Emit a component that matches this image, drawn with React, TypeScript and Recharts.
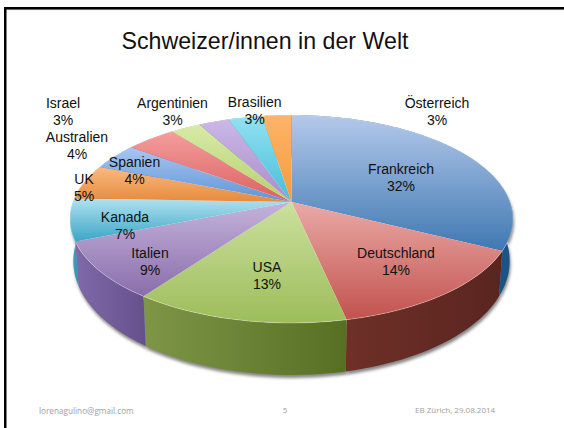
import React from 'react';
import { PieChart, Pie } from 'recharts';

const countries = ['Frankreich', 'Deutschland', 'USA', 'Italien', 'Kanada', 'UK', 'Spanien', 'Australien', 'Israel', 'Argentinien', 'Brasilien', 'Österreich'];
const shares = [32.4, 14.2, 13.4, 9, 6.6, 5.4, 4.1, 4.3, 2.6, 2.6, 2.9, 2.5];
const topLight = ['#b4c9ea', '#eaaaa7', '#cbe09d', '#c4b3db', '#b2e2f0', '#f9ba80', '#a8c6f2', '#f69d9d', '#d8eaa8', '#cbb8e7', '#92e2f2', '#fdb468'];
const topDark = ['#3f78b2', '#c2524e', '#9dbd5b', '#8a6dab', '#3aa6c6', '#e78a3c', '#5f94d6', '#d96262', '#b5d16a', '#a88cc9', '#46bdd8', '#f59b3e'];
const sideLeft = ['#1a4a78', '#6e3028', '#7f9648', '#8069a8', '#42a8c6', '#c9742e', '#4d7fb8', '#b04c4c', '#90a850', '#8870a8', '#38a0b8', '#d0802e'];
const sideRight = ['#1c5488', '#5a251f', '#566f22', '#66508c', '#2f93b0', '#c9742e', '#4d7fb8', '#b04c4c', '#90a850', '#8870a8', '#38a0b8', '#d0802e'];

// label centre and first baseline, in page pixels
const labelAnchors = [
  [401, 174], [396, 258], [267, 272], [150, 258], [125, 222], [84, 184],
  [134.5, 167], [77, 142], [63, 108], [172.5, 108], [254.7, 107], [437, 108],
];

const rows = countries.map((name, i) => ({ name, share: shares[i] }));

const CX = 291.5;
const CY = 202;
const R = 218.5;
const SQUASH = 0.463;
const PERSP = -0.1635;

const project = (cx: number, cy: number, r: number, deg: number) => {
  const t = ((90 - deg) * Math.PI) / 180;
  const u = Math.sin(t);
  const v = -Math.cos(t);
  const w = 1 + PERSP * v;
  return { x: cx + (r * u) / w, y: cy + (r * SQUASH * v) / w, v };
};

const rim = (p: any) => {
  const pts = [];
  const n = Math.max(4, Math.ceil(Math.abs(p.endAngle - p.startAngle) / 2));
  for (let i = 0; i <= n; i++) {
    pts.push(project(p.cx, p.cy, p.outerRadius, p.startAngle + ((p.endAngle - p.startAngle) * i) / n));
  }
  return pts;
};

const lower = (q: { x: number; y: number; v: number }, cx: number) => ({
  x: cx + (q.x - cx) * 0.985,
  y: q.y + 40 + 12 * Math.max(q.v, 0),
});

const sidePath = (p: any) => {
  const a = rim(p);
  const b = a.map((q) => lower(q, p.cx)).reverse();
  return [...a, ...b].map((q, i) => `${i ? 'L' : 'M'}${q.x.toFixed(1)},${q.y.toFixed(1)}`).join(' ') + ' Z';
};

const ShadowShape = (p: any) => (
  <path d={sidePath(p)} fill="#555" fillOpacity={0.7} transform="translate(1,3)" filter="url(#soft)" />
);

const SideShape = (p: any) => <path d={sidePath(p)} fill={`url(#side${p.index})`} stroke="none" />;

const TopShape = (p: any) => {
  const a = rim(p);
  const line = a.map((q) => `L${q.x.toFixed(1)},${q.y.toFixed(1)}`).join(' ');
  const arc = a.map((q, i) => `${i ? 'L' : 'M'}${q.x.toFixed(1)},${q.y.toFixed(1)}`).join(' ');
  return (
    <g>
      <path d={`M${p.cx},${p.cy} ${line} Z`} fill={`url(#top${p.index})`} stroke="none" />
      <path d={arc} fill="none" stroke="#ffffff" strokeOpacity={0.3} strokeWidth={1} />
    </g>
  );
};

const FONT = '"Liberation Sans", Arial, sans-serif';

const renderLabel = (p: any) => {
  const i = p.index;
  const [x, y] = labelAnchors[i];
  return (
    <text key={i} fontFamily={FONT} fontSize={14} fill="#111" textAnchor="middle">
      <tspan x={x} y={y}>{countries[i]}</tspan>
      <tspan x={x} y={y + 17}>{`${Math.round(shares[i])}%`}</tspan>
    </text>
  );
};

export default function App() {
  return (
    <div style={{ position: 'absolute', left: 0, top: 0, width: 564, height: 428, background: '#fff', overflow: 'hidden' }}>
      <PieChart width={564} height={428} margin={{ top: 0, right: 0, bottom: 0, left: 0 }}>
        <defs>
          <filter id="soft" x="-10%" y="-10%" width="120%" height="120%">
            <feGaussianBlur stdDeviation="1.6" />
          </filter>
          {countries.map((_, i) => (
            <linearGradient key={`t${i}`} id={`top${i}`} x1="0" y1="0" x2="0" y2="1">
              <stop offset="0%" stopColor={topLight[i]} />
              <stop offset="100%" stopColor={topDark[i]} />
            </linearGradient>
          ))}
          {countries.map((_, i) => (
            <linearGradient key={`s${i}`} id={`side${i}`} x1="0" y1="0" x2="1" y2="0">
              <stop offset="0%" stopColor={sideLeft[i]} />
              <stop offset="100%" stopColor={sideRight[i]} />
            </linearGradient>
          ))}
        </defs>
        <rect x={6} y={9.3} width={558} height={0.8} fill="#bbb" />
        <rect x={4} y={7} width={560} height={2.5} fill="#000" />
        <rect x={4} y={7} width={2.5} height={421} fill="#000" />
        <text x={265} y={49} textAnchor="middle" fontFamily={FONT} fontSize={23.2} fill="#111">Schweizer/innen in der Welt</text>
        <Pie data={rows} dataKey="share" nameKey="name" cx={CX} cy={CY} outerRadius={R} startAngle={90} endAngle={-270} stroke="none" shape={ShadowShape} isAnimationActive={false} />
        <Pie data={rows} dataKey="share" nameKey="name" cx={CX} cy={CY} outerRadius={R} startAngle={90} endAngle={-270} stroke="none" shape={SideShape} isAnimationActive={false} />
        <Pie data={rows} dataKey="share" nameKey="name" cx={CX} cy={CY} outerRadius={R} startAngle={90} endAngle={-270} stroke="none" shape={TopShape} label={renderLabel} labelLine={false} isAnimationActive={false} />
        <text x={39} y={414} fontFamily='"Open Sans", sans-serif' fontSize={8.2} fill="#a0a0a0">lorenagulino@gmail.com</text>
        <text x={285} y={413} textAnchor="middle" fontFamily='"Open Sans", sans-serif' fontSize={8} fill="#a0a0a0">5</text>
        <text x={415} y={413} fontFamily='"Open Sans", sans-serif' fontSize={8} fill="#a0a0a0">EB Zürich, 29.08.2014</text>
      </PieChart>
    </div>
  );
}
